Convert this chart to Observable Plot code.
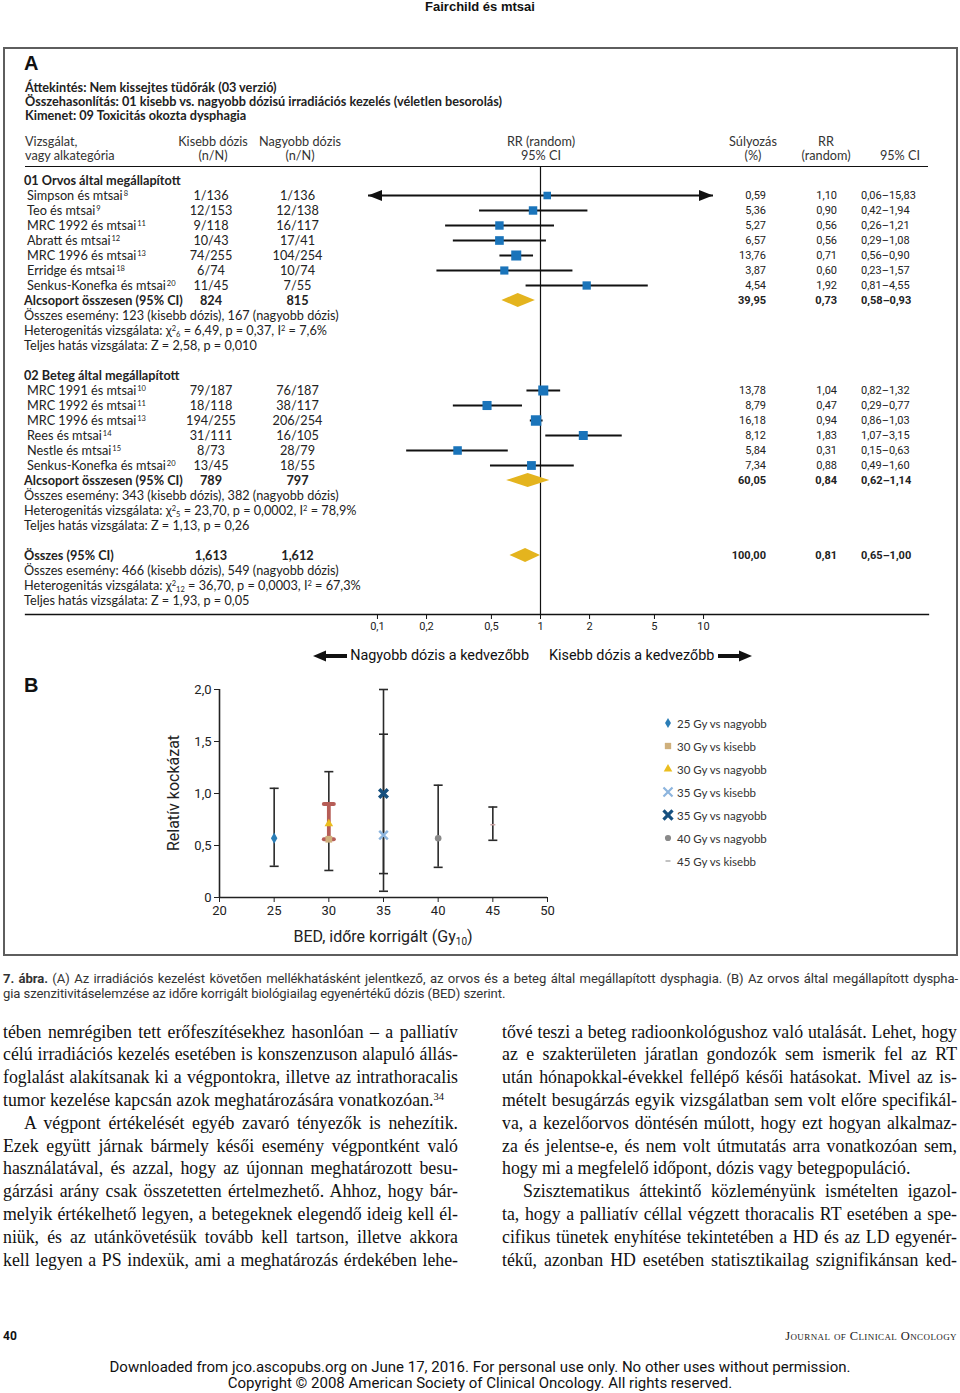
<!DOCTYPE html>
<html lang="hu">
<head>
<meta charset="utf-8">
<script src="https://cdn.jsdelivr.net/npm/d3@7"></script>
<script src="https://cdn.jsdelivr.net/npm/@observablehq/plot@0.6"></script>
<style>
html,body{margin:0;padding:0;background:#fff;}
#page{position:relative;width:960px;height:1393px;overflow:hidden;color:#222;font-family:Lato,"Open Sans",sans-serif;}
#page .a{position:absolute;white-space:nowrap;}
.sup{font-size:7.5px;position:relative;top:-4px;margin-left:1px;}
.stat sup{font-size:7.5px;vertical-align:4px;line-height:0;}
.stat sub{font-size:7.5px;vertical-align:-2px;line-height:0;}
.num{font-family:Roboto,sans-serif;font-size:11px;color:#222;}
.body{font-family:"Liberation Serif",serif;font-size:17.8px;line-height:22.8px;color:#111;}
.just{text-align:justify;text-align-last:justify;}
.body sup{font-size:10.5px;vertical-align:6px;line-height:0;}
</style>
</head>
<body><div id="page"></div>
<script>
// ---------------- DATA ----------------
const pageHeader = "Fairchild és mtsai";
const titleLines = [
  "Áttekintés: Nem kissejtes tüdőrák (03 verzió)",
  "Összehasonlítás: 01 kisebb vs. nagyobb dózisú irradiációs kezelés (véletlen besorolás)",
  "Kimenet: 09 Toxicitás okozta dysphagia"
];

const group1Title = "01 Orvos által megállapított";
const group1Names = ["Simpson és mtsai","Teo és mtsai","MRC 1992 és mtsai","Abratt és mtsai","MRC 1996 és mtsai","Erridge és mtsai","Senkus-Konefka és mtsai"];
const group1Refs = [8,9,11,12,13,18,20];
const group1Lower = ["1/136","12/153","9/118","10/43","74/255","6/74","11/45"];
const group1Higher = ["1/136","12/138","16/117","17/41","104/254","10/74","7/55"];
const group1Weight = [0.59,5.36,5.27,6.57,13.76,3.87,4.54];
const group1RR = [1.10,0.90,0.56,0.56,0.71,0.60,1.92];
const group1Lo = [0.06,0.42,0.26,0.29,0.56,0.23,0.81];
const group1Hi = [15.83,1.94,1.21,1.08,0.90,1.57,4.55];

const group2Title = "02 Beteg által megállapított";
const group2Names = ["MRC 1991 és mtsai","MRC 1992 és mtsai","MRC 1996 és mtsai","Rees és mtsai","Nestle és mtsai","Senkus-Konefka és mtsai"];
const group2Refs = [10,11,13,14,15,20];
const group2Lower = ["79/187","18/118","194/255","31/111","8/73","13/45"];
const group2Higher = ["76/187","38/117","206/254","16/105","28/79","18/55"];
const group2Weight = [13.78,8.79,16.18,8.12,5.84,7.34];
const group2RR = [1.04,0.47,0.94,1.83,0.31,0.88];
const group2Lo = [0.82,0.29,0.86,1.07,0.15,0.49];
const group2Hi = [1.32,0.77,1.03,3.15,0.63,1.60];

const summaryLabels = ["Alcsoport összesen (95% CI)","Alcsoport összesen (95% CI)","Összes (95% CI)"];
const summaryLower = ["824","789","1,613"];
const summaryHigher = ["815","797","1,612"];
const summaryWeight = [39.95,60.05,100.00];
const summaryRR = [0.73,0.84,0.81];
const summaryLo = [0.58,0.62,0.65];
const summaryHi = [0.93,1.14,1.00];
const eventsLower = [123,343,466];
const eventsHigher = [167,382,549];
const hetDf = [6,5,12];
const hetChi = [6.49,23.70,36.70];
const hetP = ["0,37","0,0002","0,0003"];
const hetI2 = [7.6,78.9,67.3];
const effectZ = [2.58,1.13,1.93];
const effectP = ["0,010","0,26","0,05"];

const forestTicks = [0.1,0.2,0.5,1,2,5,10];
const favourLabels = ["Nagyobb dózis a kedvezőbb","Kisebb dózis a kedvezőbb"];

// Panel B
const bedSeries = ["25 Gy vs nagyobb","30 Gy vs kisebb","30 Gy vs nagyobb","35 Gy vs kisebb","35 Gy vs nagyobb","40 Gy vs nagyobb","45 Gy vs kisebb"];
const bedDose = [25,30,30,35,35,40,45];
const bedRR = [0.57,0.56,0.71,0.60,1.00,0.57,0.70];
const bedLo = [0.30,0.26,0.56,0.23,0.06,0.29,0.55];
const bedHi = [1.05,1.21,0.90,1.57,2.00,1.08,0.87];
const bedYTicks = [0,0.5,1,1.5,2];
const bedXTicks = [20,25,30,35,40,45,50];
const bedYLabel = "Relatív kockázat";
const bedXLabel = "BED, időre korrigált (Gy<sub>10</sub>)";

const captionLines = [
  "<b>7. ábra.</b> (A) Az irradiációs kezelést követően mellékhatásként jelentkező, az orvos és a beteg által megállapított dysphagia. (B) Az orvos által megállapított dyspha-",
  "gia szenzitivitáselemzése az időre korrigált biológiailag egyenértékű dózis (BED) szerint."
];
const leftColumn = [
  "tében nemrégiben tett erőfeszítésekhez hasonlóan – a palliatív",
  "célú irradiációs kezelés esetében is konszenzuson alapuló állás-",
  "foglalást alakítsanak ki a végpontokra, illetve az intrathoracalis",
  "tumor kezelése kapcsán azok meghatározására vonatkozóan.<sup>34</sup>",
  "A végpont értékelését egyéb zavaró tényezők is nehezítik.",
  "Ezek együtt járnak bármely késői esemény végpontként való",
  "használatával, és azzal, hogy az újonnan meghatározott besu-",
  "gárzási arány csak összetetten értelmezhető. Ahhoz, hogy bár-",
  "melyik értékelhető legyen, a betegeknek elegendő ideig kell él-",
  "niük, és az utánkövetésük tovább kell tartson, illetve akkora",
  "kell legyen a PS indexük, ami a meghatározás érdekében lehe-"
];
const leftParaStart = [4], leftParaEnd = [3];
const rightColumn = [
  "tővé teszi a beteg radioonkológushoz való utalását. Lehet, hogy",
  "az e szakterületen járatlan gondozók sem ismerik fel az RT",
  "után hónapokkal-évekkel fellépő késői hatásokat. Mivel az is-",
  "mételt besugárzás egyik vizsgálatban sem volt előre specifikál-",
  "va, a kezelőorvos döntésén múlott, hogy ezt hogyan alkalmaz-",
  "za és jelentse-e, és nem volt útmutatás arra vonatkozóan sem,",
  "hogy mi a megfelelő időpont, dózis vagy betegpopuláció.",
  "Szisztematikus áttekintő közleményünk ismételten igazol-",
  "ta, hogy a palliatív céllal végzett thoracalis RT esetében a spe-",
  "cifikus tünetek enyhítése tekintetében a HD és az LD egyenér-",
  "tékű, azonban HD esetében statisztikailag szignifikánsan ked-"
];
const rightParaStart = [7], rightParaEnd = [6];
const pageNumber = "40";
const journalName = "Journal of Clinical Oncology";
const downloadLines = [
  "Downloaded from jco.ascopubs.org on June 17, 2016. For personal use only. No other uses without permission.",
  "Copyright © 2008 American Society of Clinical Oncology. All rights reserved."
];

// ---------------- HELPERS ----------------
const page = document.getElementById("page");
function el(css, html, cls) {
  const e = document.createElement("div");
  e.className = "a" + (cls ? " " + cls : "");
  e.style.cssText = css;
  if (html != null) e.innerHTML = html;
  page.appendChild(e);
  return e;
}
const fmt2 = v => v.toFixed(2).replace(".", ",");
const fmt1 = v => v.toFixed(1).replace(".", ",");
const TFS = "12.7px";

// ---------------- PAGE FRAME & HEADINGS ----------------
el("left:0;top:0;width:960px;text-align:center;font:bold 13px 'Liberation Sans',Arial,sans-serif;line-height:14px;color:#111;", pageHeader);
el("left:3px;top:47px;width:955px;height:909px;border:2px solid #5e5e5e;box-sizing:border-box;", "");
el("left:24px;top:51px;font:bold 20px 'Liberation Sans',Arial,sans-serif;line-height:24px;color:#111;", "A");
titleLines.forEach((t, i) => el(`left:25px;top:${80 + 14 * i}px;font-size:${TFS};font-weight:700;line-height:14px;color:#222;`, t));

// column headers
const hdr = `font-size:${TFS};line-height:14px;color:#333;`;
el(`left:25px;top:134px;${hdr}`, "Vizsgálat,<br>vagy alkategória");
el(`left:163px;top:134px;width:100px;text-align:center;${hdr}`, "Kisebb dózis<br>(n/N)");
el(`left:250px;top:134px;width:100px;text-align:center;${hdr}`, "Nagyobb dózis<br>(n/N)");
el(`left:491px;top:134px;width:100px;text-align:center;${hdr}`, "RR (random)<br>95% CI");
el(`left:713px;top:134px;width:80px;text-align:center;${hdr}`, "Súlyozás<br>(%)");
el(`left:786px;top:134px;width:80px;text-align:center;${hdr}`, "RR<br>(random)");
el(`left:860px;top:148px;width:80px;text-align:center;${hdr}`, "95% CI");
el("left:25px;top:165.5px;width:903px;height:1.3px;background:#111;", "");

// ---------------- TABLE ROWS ----------------
const rows = [];
function addSummary(k) {
  rows.push({type: "sum", label: summaryLabels[k], lower: summaryLower[k], higher: summaryHigher[k],
    weight: summaryWeight[k], rr: summaryRR[k], lo: summaryLo[k], hi: summaryHi[k]});
  rows.push({type: "stat", html: `Összes esemény: ${eventsLower[k]} (kisebb dózis), ${eventsHigher[k]} (nagyobb dózis)`});
  rows.push({type: "stat", html: `Heterogenitás vizsgálata: χ<sup>2</sup><sub>${hetDf[k]}</sub> = ${fmt2(hetChi[k])}, p = ${hetP[k]}, I<sup>2</sup> = ${fmt1(hetI2[k])}%`});
  rows.push({type: "stat", html: `Teljes hatás vizsgálata: Z = ${fmt2(effectZ[k])}, p = ${effectP[k]}`});
}
function addGroup(title, names, refs, lower, higher, weight, rr, lo, hi, k) {
  rows.push({type: "head", label: title});
  names.forEach((n, i) => rows.push({type: "study", label: n, ref: refs[i], lower: lower[i], higher: higher[i],
    weight: weight[i], rr: rr[i], lo: lo[i], hi: hi[i]}));
  addSummary(k);
}
addGroup(group1Title, group1Names, group1Refs, group1Lower, group1Higher, group1Weight, group1RR, group1Lo, group1Hi, 0);
rows.push({type: "blank"});
addGroup(group2Title, group2Names, group2Refs, group2Lower, group2Higher, group2Weight, group2RR, group2Lo, group2Hi, 1);
rows.push({type: "blank"});
addSummary(2);
rows.forEach((r, i) => r.row = i);

const ROW0 = 180, ROWH = 15;
rows.forEach(r => {
  if (r.type === "blank") return;
  const top = ROW0 + ROWH * r.row - 7.5;
  const bold = r.type === "head" || r.type === "sum";
  const fw = bold ? 700 : 400;
  const base = `top:${top}px;line-height:15px;font-size:${TFS};font-weight:${fw};color:#222;`;
  if (r.label) el(`left:${r.type === "study" ? 27 : 24}px;${base}`, r.label + (r.ref ? `<span class="sup">${r.ref}</span>` : ""));
  if (r.html) el(`left:24px;${base}`, r.html, "stat");
  if (r.lower != null) {
    el(`left:161px;width:100px;text-align:center;${base}`, r.lower);
    el(`left:247.5px;width:100px;text-align:center;${base}`, r.higher);
  }
  if (r.weight != null) {
    const nb = `top:${top}px;line-height:15px;font-weight:${fw};`;
    el(`left:686px;width:80px;text-align:right;${nb}`, fmt2(r.weight), "num");
    el(`left:757px;width:80px;text-align:right;${nb}`, fmt2(r.rr), "num");
    el(`left:861px;${nb}`, `${fmt2(r.lo)}–${fmt2(r.hi)}`, "num");
  }
});

// ---------------- FOREST PLOT (Plot) ----------------
const xLim = [0.0875, 11.43];
const studyRows = rows.filter(r => r.type === "study");
const sumRows = rows.filter(r => r.type === "sum");
const clipLo = r => Math.max(r.lo, xLim[0]);
const clipHi = r => Math.min(r.hi, xLim[1]);
const arrowHead = dir => ({draw(ctx) {
  const L = 14, H = 5.5;
  ctx.moveTo(0, 0); ctx.lineTo(-dir * L, -H); ctx.lineTo(-dir * L, H); ctx.closePath();
}});
const diamonds = sumRows.flatMap((r, i) => [
  {id: i, y: r.row - 0.47, x1: r.rr, x2: r.rr},
  {id: i, y: r.row, x1: r.lo, x2: r.hi},
  {id: i, y: r.row + 0.47, x1: r.rr, x2: r.rr}
]);
const commaFmt = d => String(d).replace(".", ",");

const forest = Plot.plot({
  width: 960, height: 510,
  marginLeft: 25, marginRight: 32, marginTop: 6, marginBottom: 56,
  x: {type: "log", domain: xLim, range: [367.5, 712.5]},
  y: {domain: [0, 28], range: [20, 440], axis: null},
  r: {type: "linear", domain: [0, 17], range: [4.2, 6]},
  style: {background: "transparent", fontFamily: "Roboto, sans-serif", fontSize: "11px", color: "#222", overflow: "visible"},
  marks: [
    Plot.frame({anchor: "bottom", stroke: "#111", strokeWidth: 1.3}),
    Plot.ruleX([1], {stroke: "#111", strokeWidth: 1.2}),
    Plot.link(studyRows, {x1: clipLo, x2: clipHi, y1: "row", y2: "row", stroke: "#111", strokeWidth: 2}),
    Plot.dot(studyRows.filter(r => r.lo < xLim[0]), {x: () => xLim[0], y: "row", symbol: arrowHead(-1), r: 5, fill: "#111", stroke: null}),
    Plot.dot(studyRows.filter(r => r.hi > xLim[1]), {x: () => xLim[1], y: "row", symbol: arrowHead(1), r: 5, fill: "#111", stroke: null}),
    Plot.dot(studyRows, {x: "rr", y: "row", symbol: "square", r: "weight", fill: "#1a74ba", stroke: null}),
    Plot.areaX(diamonds, {y: "y", x1: "x1", x2: "x2", z: "id", fill: "#e4b41e", curve: "linear"}),
    Plot.axisX(forestTicks, {anchor: "bottom", tickSize: 5, label: null, stroke: "#111", fill: "none"}),
    Plot.text(forestTicks, {x: d => d, frameAnchor: "bottom", dy: 15, text: commaFmt, fill: "#222"})
  ]
});
const forestBox = el("left:0;top:160px;", null);
forestBox.appendChild(forest);

// favour labels under forest axis
const arrowSvg = dir => dir < 0
  ? `<svg width="34" height="12" style="vertical-align:middle"><path d="M0,6L13,0.5L13,11.5Z" fill="#111"/><rect x="12" y="4" width="22" height="4" fill="#111"/></svg>`
  : `<svg width="34" height="12" style="vertical-align:middle"><rect x="0" y="4" width="22" height="4" fill="#111"/><path d="M34,6L21,0.5L21,11.5Z" fill="#111"/></svg>`;
el("right:431px;top:646px;font-family:Roboto,sans-serif;font-size:14.4px;line-height:20px;color:#111;", `${arrowSvg(-1)} ${favourLabels[0]}`);
el("left:549px;top:646px;font-family:Roboto,sans-serif;font-size:14.4px;line-height:20px;color:#111;", `${favourLabels[1]} ${arrowSvg(1)}`);

// ---------------- PANEL B (Plot) ----------------
el("left:24px;top:673px;font:bold 20px 'Liberation Sans',Arial,sans-serif;line-height:24px;color:#111;", "B");
const bed = bedSeries.map((s, i) => ({series: s, dose: bedDose[i], rr: bedRR[i], lo: bedLo[i], hi: bedHi[i]}));
const hline = {draw(ctx, size) { const r = Math.sqrt(size / Math.PI); ctx.moveTo(-r, 0); ctx.lineTo(r, 0); }};
// styling (kept apart from data)
const thickBarSeries = "30 Gy vs nagyobb";
const markerStyles = {
  "25 Gy vs nagyobb": {symbol: "diamond", fill: "#2a7db6", stroke: null, r: 3.4},
  "30 Gy vs kisebb": {symbol: "square", fill: "#cfb07c", stroke: null, r: 3.8},
  "30 Gy vs nagyobb": {symbol: "triangle", fill: "#ebbe1f", stroke: null, r: 3.2},
  "35 Gy vs kisebb": {symbol: "times", fill: "none", stroke: "#8db5de", strokeWidth: 2.4, r: 4},
  "35 Gy vs nagyobb": {symbol: "times", fill: "none", stroke: "#16507f", strokeWidth: 3.4, r: 4},
  "40 Gy vs nagyobb": {symbol: "circle", fill: "#8a8a8a", stroke: null, r: 3.3},
  "45 Gy vs kisebb": {symbol: hline, fill: "none", stroke: "#c9a3a3", strokeWidth: 1.5, r: 2.5}
};
const thinBars = bed.filter(d => d.series !== thickBarSeries);
const thickBars = bed.filter(d => d.series === thickBarSeries);
const bedPlot = Plot.plot({
  width: 600, height: 290,
  marginLeft: 219, marginRight: 53, marginTop: 19, marginBottom: 63,
  x: {domain: [20, 50]},
  y: {domain: [0, 2]},
  style: {background: "transparent", fontFamily: "Roboto, sans-serif", fontSize: "13px", color: "#222", overflow: "visible"},
  marks: [
    Plot.axisY(bedYTicks, {anchor: "left", tickSize: 5, tickPadding: 3, label: null, stroke: "#222",
      tickFormat: d => d === 0 ? "0" : d.toFixed(1).replace(".", ",")}),
    Plot.axisX(bedXTicks, {anchor: "bottom", tickSize: 5, tickPadding: 3, label: null, stroke: "#222", tickFormat: d => String(d)}),
    Plot.ruleX([20], {stroke: "#222", strokeWidth: 1.6}),
    Plot.ruleY([0], {stroke: "#222", strokeWidth: 1.6}),
    Plot.ruleX(thinBars, {x: "dose", y1: "lo", y2: "hi", stroke: "#2a2a2a", strokeWidth: 1.6}),
    Plot.dot(thinBars, {x: "dose", y: "lo", symbol: hline, r: 4.5, stroke: "#2a2a2a", strokeWidth: 1.6, fill: "none"}),
    Plot.dot(thinBars, {x: "dose", y: "hi", symbol: hline, r: 4.5, stroke: "#2a2a2a", strokeWidth: 1.6, fill: "none"}),
    Plot.ruleX(thickBars, {x: "dose", y1: "lo", y2: "hi", stroke: "#b65d57", strokeWidth: 3.8}),
    Plot.dot(thickBars, {x: "dose", y: "lo", symbol: hline, r: 5, stroke: "#b65d57", strokeWidth: 4, strokeLinecap: "round", fill: "none"}),
    Plot.dot(thickBars, {x: "dose", y: "hi", symbol: hline, r: 5, stroke: "#b65d57", strokeWidth: 4, strokeLinecap: "round", fill: "none"}),
    ...bed.map(d => Plot.dot([d], {x: "dose", y: "rr", ...markerStyles[d.series]}))
  ]
});
const bedBox = el("left:0;top:670px;", null);
bedBox.appendChild(bedPlot);

el("left:174px;top:793px;transform:translate(-50%,-50%) rotate(-90deg);font-family:Roboto,sans-serif;font-size:16px;line-height:18px;color:#222;", bedYLabel);
el("left:383px;top:937px;transform:translate(-50%,-50%);font-family:Roboto,sans-serif;font-size:16px;line-height:18px;color:#222;",
  bedXLabel.replace("<sub>", '<sub style="font-size:10px;vertical-align:-3px;line-height:0">'));

// legend
const legendSym = {
  "25 Gy vs nagyobb": [d3.symbolDiamond, 30, "#2a7db6", null, 0],
  "30 Gy vs kisebb": [d3.symbolSquare, 40, "#cfb07c", null, 0],
  "30 Gy vs nagyobb": [d3.symbolTriangle, 32, "#ebbe1f", null, 0],
  "35 Gy vs kisebb": [d3.symbolTimes, 55, "none", "#8db5de", 2.2],
  "35 Gy vs nagyobb": [d3.symbolTimes, 55, "none", "#16507f", 3.2],
  "40 Gy vs nagyobb": [d3.symbolCircle, 30, "#8a8a8a", null, 0],
  "45 Gy vs kisebb": [null, 0, "none", "#999", 1.2]
};
bedSeries.forEach((s, i) => {
  const [type, size, fill, stroke, sw] = legendSym[s];
  const path = type ? d3.symbol(type, size)() : "M-2.5,0L2.5,0";
  const svg = `<svg width="12" height="12" style="position:absolute;left:-6px;top:1.5px"><path transform="translate(6,6)" d="${path}" fill="${fill}" stroke="${stroke || "none"}" stroke-width="${sw}"/></svg>`;
  el(`left:668px;top:${723 + 23 * i - 7.5}px;height:15px;line-height:15px;font-size:11.5px;color:#333;`,
    `${svg}<span style="position:absolute;left:9px;top:0">${s}</span>`);
});

// ---------------- CAPTION ----------------
const capCss = "left:3px;width:955px;font-family:Roboto,sans-serif;font-size:13.1px;line-height:15px;color:#333;letter-spacing:-0.1px;";
el(`${capCss}top:970.5px;`, captionLines[0], "just");
el(`${capCss}top:985.5px;`, captionLines[1]);

// ---------------- BODY TEXT ----------------
function column(lines, left, starts, ends) {
  lines.forEach((t, i) => {
    const indent = starts.includes(i) ? 21 : 0;
    const isEnd = ends.includes(i);
    el(`left:${left + indent}px;width:${455 - indent}px;top:${1020.6 + 22.8 * i}px;`, t, "body" + (isEnd ? "" : " just"));
  });
}
column(leftColumn, 3, leftParaStart, leftParaEnd);
column(rightColumn, 502, rightParaStart, rightParaEnd);

// ---------------- FOOTER ----------------
el("left:3px;top:1328px;font-family:Roboto,sans-serif;font-weight:700;font-size:12px;line-height:16px;color:#111;", pageNumber);
el("right:3px;top:1328px;font-family:'Liberation Serif',serif;font-variant:small-caps;font-size:12.5px;letter-spacing:0.4px;line-height:16px;color:#222;", journalName);
downloadLines.forEach((t, i) => el(`left:0;width:960px;text-align:center;top:${1359 + 16 * i}px;font-family:Roboto,sans-serif;font-size:15px;line-height:17px;color:#111;`, t));
</script>
</body>
</html>
